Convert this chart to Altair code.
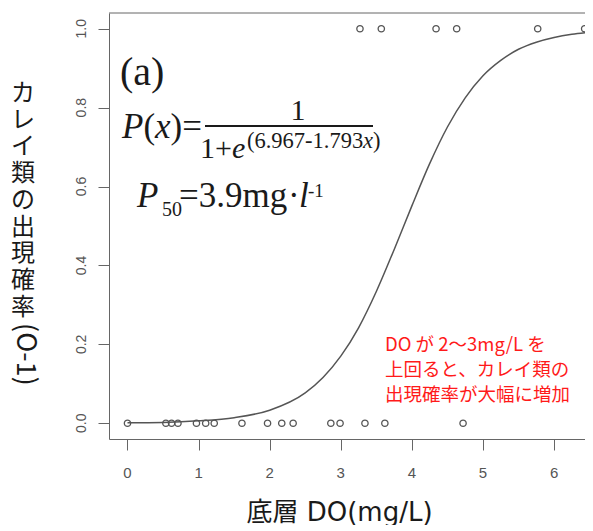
import altair as alt
import pandas as pd

# ---- data ----
x_absent = [0.0, 0.54, 0.62, 0.71, 0.97, 1.10, 1.22, 1.61, 1.97, 2.17, 2.33,
            2.86, 2.99, 3.34, 3.62, 4.72]
x_present = [3.27, 3.57, 4.34, 4.63, 5.77, 6.43]
curve_x = [0, 0.5, 1, 1.5, 2, 2.5, 2.75, 3, 3.25, 3.5, 3.75, 4, 4.25, 4.5,
           4.75, 5, 5.25, 5.5, 5.75, 6, 6.25, 6.5]
curve_p = [0.001, 0.002, 0.006, 0.014, 0.033, 0.077, 0.116, 0.170, 0.242,
           0.334, 0.440, 0.551, 0.658, 0.751, 0.825, 0.881, 0.920, 0.948,
           0.966, 0.978, 0.986, 0.991]
x_ticks = [0, 1, 2, 3, 4, 5, 6]
y_ticks = [0.0, 0.2, 0.4, 0.6, 0.8, 1.0]

pts = pd.DataFrame({
    "x": x_absent + x_present,
    "p": [0.0] * len(x_absent) + [1.0] * len(x_present),
})
curve = pd.DataFrame({"x": curve_x, "p": curve_p})
xt = pd.DataFrame({"v": x_ticks})
yt = pd.DataFrame({"v": y_ticks})
one = pd.DataFrame({"k": [0]})

W, H = 476, 426
GRAY = "#666"
INK = "#1a1a1a"
LAB = "#555"

xscale = alt.Scale(domain=[-0.26, 6.435], nice=False, zero=False)
yscale = alt.Scale(domain=[-0.04, 1.04], nice=False, zero=False)

xaxis = alt.Axis(values=x_ticks, grid=False, tickSize=11, labels=False,
                 domainColor=GRAY, tickColor=GRAY,
                 title="底層 DO(mg/L)", titleFont="DejaVu Sans, Noto Sans CJK JP",
                 titleFontSize=26, titleFontWeight="normal", titleColor=INK,
                 titleX=230, titleY=81, titleAlign="center",
                 titleBaseline="alphabetic")
yaxis = alt.Axis(values=y_ticks, grid=False, tickSize=11, labels=False,
                 domainColor=GRAY, tickColor=GRAY, title=None)

line = alt.Chart(curve).mark_line(
    interpolate="monotone", color="#555", strokeWidth=1.5, clip=True
).encode(x=alt.X("x:Q", scale=xscale, axis=xaxis),
         y=alt.Y("p:Q", scale=yscale, axis=yaxis))

points = alt.Chart(pts).mark_point(
    shape="circle", filled=False, size=40, strokeWidth=1.3, color="#555",
    opacity=1
).encode(
    x=alt.X("x:Q", scale=xscale, axis=xaxis),
    y=alt.Y("p:Q", scale=yscale, axis=yaxis),
)

# tick labels (R style: y labels rotated)
xlabels = alt.Chart(xt).mark_text(
    font="Liberation Sans", fontSize=15, color=LAB, align="center",
    baseline="alphabetic"
).encode(x=alt.X("v:Q", scale=xscale), y=alt.value(H + 39),
         text=alt.Text("v:Q", format="d"))
ylabels = alt.Chart(yt).mark_text(
    font="Liberation Sans", fontSize=14, color=LAB, align="center",
    baseline="alphabetic", angle=270
).encode(y=alt.Y("v:Q", scale=yscale), x=alt.value(-23),
         text=alt.Text("v:Q", format=".1f"))

top_border = alt.Chart(one).mark_rule(color=GRAY, strokeWidth=1).encode(
    x=alt.value(0), x2=alt.value(W), y=alt.value(0))


def txt(text, x, y, size, font="Liberation Serif", style="normal",
        align="left", baseline="alphabetic", color=INK, angle=None,
        lineHeight=None):
    kw = dict(text=text, fontSize=size, font=font, fontStyle=style,
              align=align, baseline=baseline, color=color)
    if angle is not None:
        kw["angle"] = angle
    if lineHeight is not None:
        kw["lineHeight"] = lineHeight
    return alt.Chart(one).mark_text(**kw).encode(x=alt.value(x), y=alt.value(y))


ann = [
    txt("(a)", 11, 72, 40),
    # P(x) = 1 / (1 + e^(6.967-1.793x))
    txt("P", 13, 125, 35, style="italic"),
    txt("(", 34.4, 125, 35),
    txt("x", 46.1, 125, 35, style="italic"),
    txt(")=", 61.6, 125, 35),
    txt("1", 189, 107, 30, align="center"),
    txt("1+", 91, 145, 30),
    txt("e", 122.9, 145, 30, style="italic"),
    txt("(6.967-1.793", 138, 135, 22.5),
    txt("x", 254, 135, 22.5, style="italic"),
    txt(")", 264, 135, 22.5),
    # P50 = 3.9 mg·l-1
    txt("P", 28, 194, 35, style="italic"),
    txt("50", 53, 203, 20),
    txt("=3.9mg", 70, 194, 35),
    txt("·", 179, 194, 35),
    txt("l", 190, 194, 35, style="italic"),
    txt("-1", 199, 184, 19),
    # red note
    txt(["DO が 2～3mg/L を", "上回ると、カレイ類の", "出現確率が大幅に増加"],
        276, 338, 18.5, font="Noto Sans CJK JP", color="#ff1a1a",
        lineHeight=25),
    # vertical y title
    txt(["カ", "レ", "イ", "類", "の", "出", "現", "確", "率"], -86, 88, 24,
        font="Noto Sans CJK JP", align="center", lineHeight=26.7),
    txt("(O-1)", -84, 310, 27, font="Noto Sans CJK JP", align="left",
        baseline="middle", angle=90),
]

frac_bar = alt.Chart(one).mark_rule(color=INK, strokeWidth=1.8).encode(
    x=alt.value(96), x2=alt.value(264), y=alt.value(113))

chart = alt.layer(line, points, xlabels, ylabels, top_border, frac_bar,
                  *ann).properties(
    width=W, height=H,
    padding={"left": 101, "top": 5, "right": 0, "bottom": 86},
    autosize=alt.AutoSizeParams(type="none"),
    background="white",
).configure_view(stroke=None)

chart.save("out.html", embed_options={"renderer": "svg", "actions": False})
